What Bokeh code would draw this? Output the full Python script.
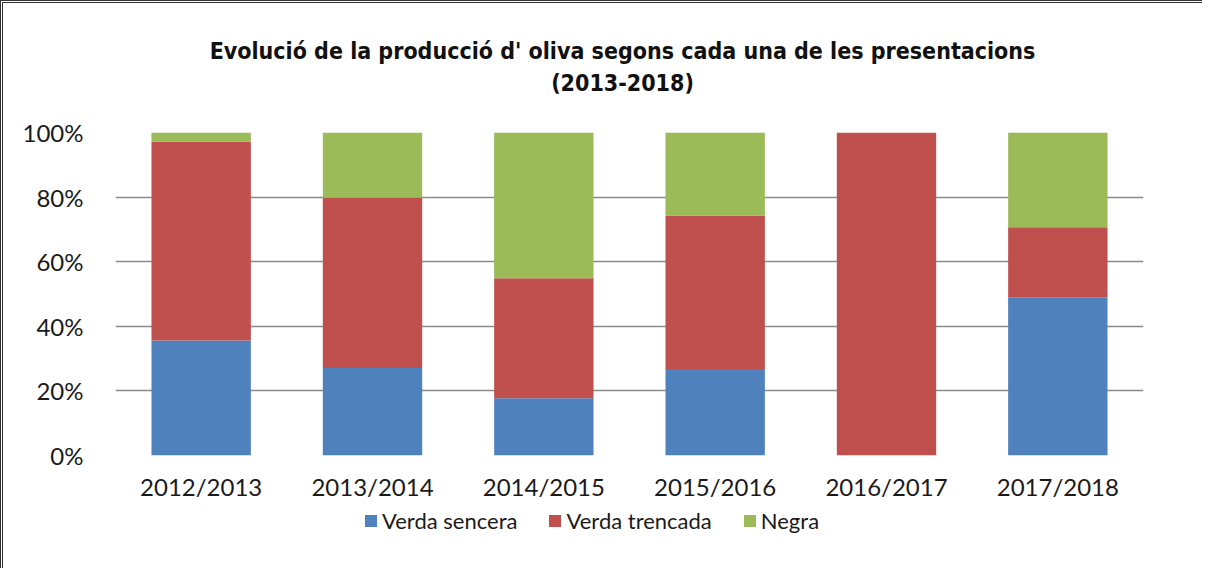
from bokeh.plotting import figure
from bokeh.layouts import column
from bokeh.models import FactorRange, Legend, LegendItem, NumeralTickFormatter, FixedTicker, Range1d
from bokeh.core.properties import value
from bokeh.embed import file_html
from bokeh.resources import INLINE

categories = ["2012/2013", "2013/2014", "2014/2015", "2015/2016", "2016/2017", "2017/2018"]
verda_sencera = [0.356, 0.271, 0.177, 0.268, 0.0, 0.490]
verda_trencada = [0.616, 0.527, 0.372, 0.475, 1.0, 0.217]
negra = [0.028, 0.202, 0.451, 0.257, 0.0, 0.293]
series = ["Verda sencera", "Verda trencada", "Negra"]
colors = ["#4F81BD", "#C0504D", "#9BBB59"]
y_ticks = [0, 0.2, 0.4, 0.6, 0.8, 1.0]
title_lines = ["Evolució de la producció d' oliva segons cada una de les presentacions", "(2013-2018)"]

W = 1199
FL, FR = 112, 1140  # frame left / right (shared by the column's aligned frames)

data = {"cat": categories, "Verda sencera": verda_sencera,
        "Verda trencada": verda_trencada, "Negra": negra}

# ---- title strip (pixel coordinates, y downwards)
TH = 114
pt = figure(width=W, height=TH, output_backend="svg", toolbar_location=None,
            x_range=Range1d(FL, FR), y_range=Range1d(TH, 0), title=None,
            min_border=0, x_axis_type=None, y_axis_type=None)
pt.outline_line_color = None
pt.grid.visible = False
pt.text(x=[619, 619], y=[47, 79], text=title_lines, text_align="center", text_baseline="middle",
        text_font=value("DejaVu Sans Condensed"), text_font_size="23px", text_font_style="bold",
        text_color="#111111")

# ---- main chart
MH = 15 + 323 + 50
p = figure(x_range=FactorRange(*categories), y_range=Range1d(0, 1.0), title=None,
           width=W, height=MH, output_backend="svg", toolbar_location=None,
           min_border_left=FL, min_border_right=W - FR, min_border_bottom=50, min_border_top=15)
p.vbar_stack(series, x="cat", width=0.58, color=colors, source=data, line_width=0)
p.x_range.range_padding = 0.0
p.yaxis.ticker = FixedTicker(ticks=y_ticks)
p.yaxis.formatter = NumeralTickFormatter(format="0%")
for ax in (p.xaxis, p.yaxis):
    ax.axis_line_color = None
    ax.major_tick_line_color = None
    ax.minor_tick_line_color = None
    ax.major_label_text_font = "Lato"
    ax.major_label_text_font_size = "24px"
    ax.major_label_text_color = "#1a1a1a"
p.yaxis.major_label_standoff = 26
p.xaxis.major_label_standoff = 10
p.xgrid.grid_line_color = None
p.ygrid.grid_line_color = "#8a8a8a"
p.ygrid.grid_line_width = 1.5
p.outline_line_color = None

# ---- legend strip (same series, drawn outside its visible y range; only the legend shows)
LH = 568 - 3 - TH - MH
pl = figure(width=W, height=LH, output_backend="svg", toolbar_location=None,
            x_range=p.x_range, y_range=Range1d(5, 6), title=None,
            min_border=0, x_axis_type=None, y_axis_type=None)
pl.outline_line_color = None
pl.grid.visible = False
lr = pl.vbar_stack(series, x="cat", width=0.58, color=colors, source=data, line_width=0)
items = [LegendItem(label=s, renderers=[r]) for s, r in zip(series, lr)]
legend = Legend(items=items, orientation="horizontal", location=(360 - FL, 34),
                label_text_font="Lato", label_text_font_size="22px", label_text_color="#1a1a1a",
                glyph_width=15, glyph_height=15, spacing=30, label_standoff=4,
                border_line_color=None, background_fill_alpha=0, margin=0, padding=0)
pl.add_layout(legend, "center")

layout = column(pt, p, pl, spacing=0)
layout.styles = {"border-top": "3px double #333333", "border-left": "3px double #333333"}

open("out.html", "w").write(file_html(layout, INLINE))
